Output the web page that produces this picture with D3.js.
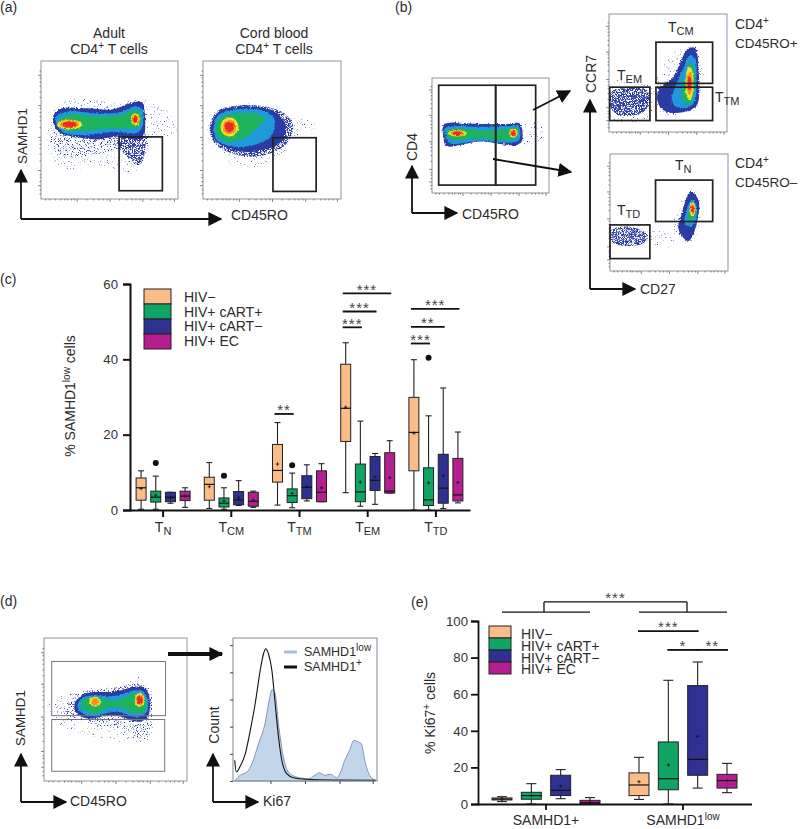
<!DOCTYPE html>
<html>
<head>
<meta charset="utf-8">
<script src="https://cdnjs.cloudflare.com/ajax/libs/d3/7.8.5/d3.min.js"></script>
<style>
  body { margin: 0; background: #fff; }
  svg { display: block; font-family: "Liberation Sans", Arial, sans-serif; fill: #2b2b2b; }
  .lab { font-size: 14px; }
  .axis text { font-size: 13.2px; fill: #333; font-family: "Liberation Sans", Arial, sans-serif; }
  .star { font-size: 15px; fill: #444; text-anchor: middle; letter-spacing: 1px; }
</style>
</head>
<body>
<svg id="fig" width="800" height="829"></svg>
<script>
// ---- data ----
var seriesNames = ["HIV\u2212", "HIV+ cART+", "HIV+ cART\u2212", "HIV+ EC"];
var seriesColors = ["#fbbd88", "#0fa565", "#2e3192", "#b41e8e"];

// (c) each row: low whisker, q1, median, q3, high whisker, mean
var cGroups = ["N", "CM", "TM", "EM", "TD"];
var cTicks = [0, 20, 40, 60];
var tnStats = [[0.2, 2.6, 5.9, 8.5, 10.4, 5.7], [0.2, 2.1, 3.4, 5, 9, 3.9], [1.8, 2.2, 3.4, 4.7, 4.7, 3.3], [0.7, 2.5, 3.7, 5, 5.9, 3.7]];
var tcmStats = [[0.4, 2.6, 6.8, 8.7, 12.6, 6.2], [0.2, 0.8, 1.8, 3.2, 5.9, 2.4], [1.2, 1.4, 2.7, 4.9, 7.8, 3.3], [0.7, 1, 2.3, 4.7, 5, 2.6]];
var ttmStats = [[1.3, 7.4, 10.5, 17.4, 23.2, 12.2], [0.6, 2, 3.8, 5.6, 9.8, 4.4], [2.4, 3, 6, 9.1, 12, 6.2], [2.2, 2.2, 4.7, 10.4, 12.3, 5.9]];
var temStats = [[4.6, 18.2, 27, 38.7, 44.4, 27.3], [1, 2.2, 4.8, 12.2, 23.6, 7.4], [1.5, 5.2, 7.9, 14.2, 15, 8.8], [4.5, 4.5, 5, 15.2, 18.4, 8.6]];
var ttdStats = [[0, 10.4, 20.6, 29.9, 39.9, 20.4], [0, 1.2, 2.7, 11.2, 25, 7.2], [0.4, 1.8, 5.8, 14.8, 32.4, 9.1], [1.9, 2.4, 4, 13.7, 20.7, 7.3]];
var cOutliers = [["N", 1, 12.5], ["CM", 1, 9.1], ["TM", 1, 11.9], ["TD", 1, 40.4]];
// group, from series, to series, value, stars
var cSig = [
  ["TM", 0, 1, 25.5, "**"],
  ["EM", 0, 1, 48.5, "***"], ["EM", 0, 2, 52.7, "***"], ["EM", 0, 3, 57.5, "***"],
  ["TD", 0, 1, 44.2, "***"], ["TD", 0, 2, 48.6, "**"], ["TD", 0, 3, 53.4, "***"]
];

// (e) same row layout
var eGroups = ["SAMHD1+", "SAMHD1low"];
var eTicks = [0, 20, 40, 60, 80, 100];
var posStats = [[1.3, 2.2, 2.7, 3.3, 4, 2.7], [0, 2.6, 4.6, 6.4, 11.1, 4.6], [2.9, 4.6, 7.5, 15.7, 18.8, 9.7], [0, 0, 0.7, 2, 3.5, 0.9]];
var lowStats = [[2.5, 4.6, 10.4, 17, 25.5, 12.2], [0, 7.8, 13.8, 33.9, 67.6, 21.3], [8.7, 15.7, 24.4, 64.7, 77.6, 37], [6.2, 8.7, 12.8, 16.2, 22.2, 12.8]];
var eSig = [
  ["SAMHD1low", 0, 2, 94.5, "***"], ["SAMHD1low", 1, 2, 84.2, "*"], ["SAMHD1low", 2, 3, 84.2, "**"]
];

// (d) histogram, x and count in % of the panel
var ki67Pos = [1.2, 2.3, 5, 8.5, 12, 15.4, 18.9, 21.2, 22.8, 24.6, 27, 29.3, 31.6, 33.9, 37.3, 41.9, 51.2, 69.6, 99.5];
var countPos = [14.5, 6.3, 10.3, 19, 35.4, 54, 77.4, 89, 92.5, 89, 77.4, 54, 30.8, 14.5, 5.1, 2.3, 1.2, 0.7, 0.5];
var ki67Low = [1.6, 5, 9.7, 13.1, 17.7, 22.4, 24.7, 27.2, 29.3, 31.6, 35, 38.5, 44.2, 52.3, 56.9, 59.9, 63.8, 67.7, 71.9, 74.2, 77.6, 81, 83.9, 86.9, 89.2, 91.5, 94.9, 98.4];
var countLow = [0.5, 4, 6.3, 12, 26, 41, 54, 64, 61, 40, 16.8, 6.3, 2.8, 1.6, 4, 5.8, 4, 4.7, 2.3, 5.1, 14.5, 21.5, 28.4, 27.3, 26, 14.5, 4, 0.9];

// flow plots: density outlines in % of the panel; hot spots = x, y, rx, ry (yellow), then orange, red radii
var a1Sparse = [[8,62],[21,72],[53,70.5],[74.5,72],[96,62],[99,47.5],[77,43],[74.5,26],[67,18.5],[43,23.5],[19,21],[7,31],[4.5,47.5]];
var a1Mid = [[6.8,47.6],[33.4,47.6],[55,45],[77,47.6],[75.8,30.6],[71,24.6],[65,25.8],[57.6,35.5],[43,32.6],[23.8,30.1],[10.4,35]];
var a1Tail = [[56.4,45],[74.5,46],[75,30],[71,24.6],[66,28.2],[58.8,35.5]];
var a1Blue = [[9.2,60.9],[15.3,65.7],[33.4,65.7],[52.8,65],[64.9,69.3],[73.4,70.5],[75.8,62],[75,45.2],[72,42.8],[56.4,45.2],[43,43.2],[26,44.7],[12.8,48.8],[9.2,54.8]];
var a1Cyan = [[11,59.7],[18.9,63.3],[43,62],[58.8,63.3],[67.3,66.9],[73.4,65.7],[74,52.4],[69.7,48],[52.8,48.8],[31,46.4],[16.5,48],[11.6,53.6]];
var a1Green = [[13.6,57.2],[20,60.9],[43,59.7],[58.8,60.9],[67.3,64.5],[72,63.3],[72.6,53.6],[67.3,51.2],[52.8,51.2],[31,49.5],[17.7,50]];
var a1Hot = [[20.8,54,9,3.5,7,2.8,5,2.2],[68.8,57.7,3.2,4.4,2.4,3.4,1.5,2.4]];

var a2Sparse = [[5.3,59.7],[22,68],[46,68],[63,61],[82,53.6],[81,48.8],[65.4,45],[58,30.7],[36.5,22],[17.3,25.8],[4,40]];
var a2Speck = [[4.8,51.2],[10,63.3],[22,67.4],[46,66.9],[60.6,60.9],[65.4,52.4],[60.6,40.3],[48.6,33],[31.7,30.7],[15,35.5],[7.7,41.5]];
var a2Blue = [[5.5,51.2],[10.5,62.5],[22,66.5],[46,65.5],[56,60],[60,53],[58,43],[48.6,37],[31.7,34],[15,38],[8.5,43]];
var a2Cyan = [[7.7,51.2],[11.3,60.9],[24.5,65],[46,63.3],[52,57.2],[48.6,45],[31.7,38],[17.3,39],[10,42.8]];
var a2Green = [[8.9,51.2],[12.5,58.5],[24.5,62],[41,61],[45,58.5],[39,51.2],[29.3,44],[17.3,41.5],[11.3,45.2]];
var a2Hot = [[19.2,52.2,6.5,7,5,5.3,3.4,3.8]];

var bMainSparse = [[81,63.4],[98,53],[92,46],[78,43]];
var bMainBlue = [[9.7,59],[15.4,61],[41,60],[64,60],[75,60.5],[75.6,43],[41,44.7],[12.5,41],[9.7,49]];
var bMainCyan = [[11,56],[17,58],[41,57.6],[64,58],[74,58],[74.4,46],[66.7,43.8],[41,45.5],[15.4,43.2],[11.7,49]];
var bMainGreen = [[12.5,54],[21,56],[46.7,54],[65,56],[73,56],[73,48.4],[65,46],[41,48],[18,46],[12.5,49]];
var bMainHot = [[21.7,51.9,8,2.7,6,2.2,4,1.6],[69.5,52,3.5,3.8,2.8,3,2,2.2]];

var bTopSparse = [[44.6,58],[68.8,74],[78.7,64],[77.3,27],[71.6,17],[46,15.6],[39,27],[40,47]];
var bTopSparse2 = [[0.6,41],[32,41],[40,27],[34.7,12.8],[3.4,10]];
var bTopSpeck = [[2,34],[14.8,37],[31.8,35.5],[34,24],[29,17],[9,14],[2,20]];
var bTopBlue = [[41.8,35.5],[54.5,47],[67.3,71],[73,71],[75.9,52.6],[75,24],[68.8,18.5],[48.9,17],[41.8,24]];
var bTopCyan = [[54.5,34],[61.6,51],[68.8,65],[73,62.5],[74,41],[73,27],[67.3,20.7],[57.4,21.3],[53,27]];
var bTopGreen = [[61.6,32.7],[64.5,44],[68.8,58],[72,55],[72,35.5],[70,25.6],[64.5,24.7]];
var bTopHot = [[68.2,41.2,3.5,14,2.5,10,1.6,6]];

var bLowSparse = [[59.4,57.7],[69.3,73.4],[76.4,60.6],[73.6,32],[66.5,23.4],[58,29],[53.7,43.4]];
var bLowSparse2 = [[34,32],[58,37.7],[59.4,26],[39.5,19]];
var bLowSpeck = [[1,35],[17.9,37.7],[32.4,30.6],[28,23.4],[8,22],[1,26]];
var bLowBlue = [[60.8,49],[68,67.7],[75,60.6],[72,35],[66.5,25.7],[59.4,32],[58,40.6]];
var bLowCyan = [[63.6,47.7],[69.3,60.6],[73.6,55],[72,42],[68,37.7],[63.6,40.6]];
var bLowGreen = [[66.5,49],[69.9,57],[72.7,52],[71.3,44.9],[68,42]];
var bLowHot = [[69.9,52.9,2.6,6,1.9,4.5,1.2,3]];

var dSparse = [[1,54],[27.7,63.7],[53.4,68.4],[69.7,72.6],[75.5,63.7],[74.4,31],[67.4,26],[46.4,28.6],[23,33],[4.4,45]];
var dSpeck = [[16,54],[27.7,62.5],[48.8,65],[67.4,68.4],[74,63.7],[74,35.6],[67.4,29.7],[58,35.6],[30,40.3],[13.8,46]];
var dBlue = [[22,55.5],[30,61.4],[48.8,62.5],[68.5,66],[73,61.4],[73,46],[67.4,41.5],[48.8,46],[30,43.8],[22,48.5]];
var dCyan = [[24,55.5],[31,59.5],[48.8,59.5],[67.4,63.7],[72,59],[72,48.5],[66,45],[50,48.5],[32.4,45.4],[24,50.4]];
var dGreen = [[26,55.5],[33.6,58.5],[50,56.2],[65,61.4],[70.9,57.8],[70.9,49.6],[65,47.3],[50,52],[34.7,47.3],[27,50.8]];
var dHot = [[35.7,55.5,4,3.5,2.5,2.5,0,0],[66.9,56.7,3.5,4.8,2.8,3.8,2,3]];

var flowMajorY = [10, 21, 45, 68, 90];
var flowMinorY = [4, 7, 13, 16, 18, 28, 33, 37, 40, 43, 52, 57, 60, 63, 66, 74, 78, 82, 85, 88, 93];
var flowMajorX = [26, 50, 74, 97];
var flowMinorX = [3, 6, 10, 14, 17, 19, 22, 24, 33, 38, 42, 45, 48, 57, 62, 66, 69, 72, 80, 85, 88, 91, 94];

// ---- page ----
var svg = d3.select("#fig");
var defs = svg.append("defs");

var addSpeck = function (id, k, b) {
  var f = defs.append("filter").attr("id", id).attr("color-interpolation-filters", "sRGB");
  f.append("feTurbulence").attr("type", "fractalNoise").attr("baseFrequency", 1.3).attr("numOctaves", 1).attr("seed", 4).attr("result", "n");
  f.append("feColorMatrix").attr("in", "n").attr("values", "0 0 0 0 0 0 0 0 0 0 0 0 0 0 0 " + k + " 0 0 0 " + b).attr("result", "m");
  f.append("feComposite").attr("in", "SourceGraphic").attr("in2", "m").attr("operator", "in");
};
addSpeck("sparse", 7, -4.5);
addSpeck("mid", 7, -3.8);
addSpeck("speck", 7, -2.9);

// rough, soft edge for the solid density bands
var soft = defs.append("filter").attr("id", "soft").attr("color-interpolation-filters", "sRGB");
soft.append("feTurbulence").attr("type", "fractalNoise").attr("baseFrequency", 0.6).attr("numOctaves", 1).attr("seed", 7).attr("result", "n");
soft.append("feDisplacementMap").attr("in", "SourceGraphic").attr("in2", "n").attr("scale", 3.5).attr("xChannelSelector", "R").attr("yChannelSelector", "G").attr("result", "d");
soft.append("feGaussianBlur").attr("in", "d").attr("stdDeviation", 0.6);

defs.append("marker").attr("id", "head").attr("viewBox", "0 0 10 10").attr("refX", 9).attr("refY", 5)
  .attr("markerUnits", "userSpaceOnUse").attr("markerWidth", 14).attr("markerHeight", 14).attr("orient", "auto")
  .append("path").attr("d", "M0,0L10,5L0,10Z").attr("fill", "#111");

// text with optional sub or superscript runs
var rich = function (x, y, parts, opts) {
  opts = opts || {};
  var t = svg.append("text").attr("class", "lab")
    .attr("text-anchor", opts.anchor || "start");
  if (opts.size) t.style("font-size", opts.size + "px");
  if (opts.rotate) {
    t.attr("transform", "translate(" + x + "," + y + ") rotate(-90)");
  } else {
    t.attr("x", x).attr("y", y);
  }
  var shift = 0;
  parts.forEach(function (p) {
    var s = t.append("tspan").text(p[0]);
    var dy = -shift;
    if (p[1] === "sub") { s.style("font-size", "11px"); shift = 3; dy += 3; }
    else if (p[1] === "sup") { s.style("font-size", "10px"); shift = -5; dy += -5; }
    else { shift = 0; }
    if (dy !== 0) s.attr("dy", dy);
  });
  return t;
};

var panelLabels = [["(a)", 0, 12], ["(b)", 395, 12], ["(c)", 0, 284], ["(d)", 0, 606], ["(e)", 411, 607]];
panelLabels.forEach(function (d) { rich(d[1], d[2], [[d[0]]]); });

// ---- flow panels ----
var colors = { blue: "#2b3ba4", cyan: "#1e9ad8", green: "#1db25c", yellow: "#f3e62b", orange: "#f7941d", red: "#ec2a25" };
var flowLine = d3.line().curve(d3.curveCatmullRomClosed.alpha(0.5));
var clipCount = 0;

var drawFlow = function (box, layers, gates, gateColor) {
  var x = d3.scaleLinear().domain([0, 100]).range([box.x0, box.x1]);
  var y = d3.scaleLinear().domain([0, 100]).range([box.y1, box.y0]);
  var id = "clip" + clipCount++;
  defs.append("clipPath").attr("id", id).append("rect")
    .attr("x", box.x0).attr("y", box.y0).attr("width", box.x1 - box.x0).attr("height", box.y1 - box.y0);
  var g = svg.append("g");
  var marks = g.append("g").attr("clip-path", "url(#" + id + ")");
  var outline = function (pts) { return flowLine(pts.map(function (p) { return [x(p[0]), y(p[1])]; })); };

  [["sparse", layers.sparse], ["mid", layers.mid], ["speck", layers.speck]].forEach(function (l) {
    (l[1] || []).forEach(function (pts) {
      marks.append("path").attr("d", outline(pts)).attr("fill", colors.blue).attr("filter", "url(#" + l[0] + ")");
    });
  });
  var solid = marks.append("g").attr("filter", "url(#soft)");
  [["blue", layers.blue], ["cyan", layers.cyan], ["green", layers.green]].forEach(function (l) {
    solid.append("path").attr("d", outline(l[1])).attr("fill", colors[l[0]]);
  });
  layers.hot.forEach(function (h) {
    [["yellow", h[2], h[3]], ["orange", h[4], h[5]], ["red", h[6], h[7]]].forEach(function (e) {
      solid.append("ellipse").attr("cx", x(h[0])).attr("cy", y(h[1]))
        .attr("rx", x(e[1]) - x(0)).attr("ry", y(0) - y(e[2])).attr("fill", colors[e[0]]);
    });
  });

  g.append("rect").attr("x", box.x0).attr("y", box.y0).attr("width", box.x1 - box.x0).attr("height", box.y1 - box.y0)
    .attr("fill", "none").attr("stroke", "#7d8c96").attr("stroke-width", 0.9);

  var tick = function (axis, vals, size, tf) {
    g.append("g").attr("transform", tf)
      .call(axis.tickValues(vals).tickSize(size).tickFormat(""))
      .call(function (s) { s.select(".domain").remove(); s.selectAll("line").attr("stroke", "#555").attr("stroke-width", 0.7); });
  };
  tick(d3.axisLeft(y), flowMajorY, 3, "translate(" + box.x0 + ",0)");
  tick(d3.axisLeft(y), flowMinorY, 1.5, "translate(" + box.x0 + ",0)");
  tick(d3.axisBottom(x), flowMajorX, 3, "translate(0," + box.y1 + ")");
  tick(d3.axisBottom(x), flowMinorX, 1.5, "translate(0," + box.y1 + ")");

  gates.forEach(function (r) {
    g.append("rect").attr("x", x(r[0])).attr("y", y(r[3])).attr("width", x(r[1]) - x(r[0])).attr("height", y(r[2]) - y(r[3]))
      .attr("fill", "none").attr("stroke", gateColor || "#222").attr("stroke-width", gateColor ? 1 : 1.7);
  });
  return { x: x, y: y, g: g };
};

drawFlow({ x0: 41, x1: 178, y0: 61, y1: 199 },
  { sparse: [a1Sparse], mid: [a1Mid], speck: [a1Tail], blue: a1Blue, cyan: a1Cyan, green: a1Green, hot: a1Hot },
  [[57, 88.6, 6, 45]]);
drawFlow({ x0: 203, x1: 341, y0: 61, y1: 199 },
  { sparse: [a2Sparse], speck: [a2Speck], blue: a2Blue, cyan: a2Cyan, green: a2Green, hot: a2Hot },
  [[50.7, 82, 5.5, 44.4]]);
drawFlow({ x0: 432, x1: 549, y0: 78, y1: 193 },
  { sparse: [bMainSparse], blue: bMainBlue, cyan: bMainCyan, green: bMainGreen, hot: bMainHot },
  [[5.7, 54.4, 6.9, 93.7], [54.4, 88.6, 6.9, 93.7]]);
drawFlow({ x0: 609, x1: 727, y0: 14, y1: 132 },
  { sparse: [bTopSparse, bTopSparse2], speck: [bTopSpeck, bTopSpeck], blue: bTopBlue, cyan: bTopCyan, green: bTopGreen, hot: bTopHot },
  [[39.8, 87.8, 41.2, 76.1], [39.8, 87.8, 9.7, 38], [0.6, 34.7, 9.7, 38]]);
drawFlow({ x0: 610, x1: 728, y0: 154, y1: 271 },
  { sparse: [bLowSparse, bLowSparse2], speck: [bLowSpeck], blue: bLowBlue, cyan: bLowCyan, green: bLowGreen, hot: bLowHot },
  [[38.6, 87, 42.3, 77.7], [0, 33.8, 10.6, 39.4]]);
drawFlow({ x0: 44, x1: 187, y0: 638, y1: 781 },
  { sparse: [dSparse], mid: [dSpeck], blue: dBlue, cyan: dCyan, green: dGreen, hot: dHot },
  [[5.4, 85, 45.7, 83.6], [5.4, 84.4, 6.8, 43]], "#777");

// ---- histogram ----
var histX = d3.scaleLinear().domain([0, 100]).range([233, 377]);
var histY = d3.scaleLinear().domain([0, 100]).range([781, 638]);
var lowPts = ki67Low.map(function (v, i) { return [v, countLow[i]]; });
var posPts = ki67Pos.map(function (v, i) { return [v, countPos[i]]; });
svg.append("path").attr("d", d3.area().curve(d3.curveMonotoneX)
    .x(function (d) { return histX(d[0]); }).y0(histY(0)).y1(function (d) { return histY(d[1]); })(lowPts))
  .attr("fill", "#c3d5ea").attr("stroke", "#7f98b8").attr("stroke-width", 1);
svg.append("path").attr("d", d3.line().curve(d3.curveMonotoneX)
    .x(function (d) { return histX(d[0]); }).y(function (d) { return histY(d[1]); })(posPts))
  .attr("fill", "none").attr("stroke", "#111").attr("stroke-width", 1.1);
svg.append("rect").attr("x", 233).attr("y", 638).attr("width", 144).attr("height", 143)
  .attr("fill", "none").attr("stroke", "#7d8c96");
svg.append("g").attr("transform", "translate(233,0)")
  .call(d3.axisLeft(histY).tickValues([0, 19, 38, 57, 76, 95]).tickSize(3).tickFormat(""))
  .call(function (s) { s.select(".domain").remove(); s.selectAll("line").attr("stroke", "#444"); });
svg.append("g").attr("transform", "translate(0,781)")
  .call(d3.axisBottom(histX).tickValues(flowMajorX).tickSize(3).tickFormat(""))
  .call(function (s) { s.select(".domain").remove(); s.selectAll("line").attr("stroke", "#444"); });
svg.append("line").attr("x1", 284).attr("x2", 297).attr("y1", 652).attr("y2", 652).attr("stroke", "#a9bfdc").attr("stroke-width", 3);
svg.append("line").attr("x1", 284).attr("x2", 297).attr("y1", 667).attr("y2", 667).attr("stroke", "#111").attr("stroke-width", 3);
rich(304, 656, [["SAMHD1"], ["low", "sup"]], { size: 12.5 });
rich(304, 671, [["SAMHD1"], ["+", "sup"]], { size: 12.5 });

// ---- arrows ----
var arrow = function (points, w) {
  svg.append("path").attr("d", d3.line()(points)).attr("fill", "none")
    .attr("stroke", "#111").attr("stroke-width", w || 1.8).attr("marker-end", "url(#head)");
};
var axisArrows = [[21, 219, 170, 221], [412, 213, 166, 457], [590, 289, 100, 635], [21, 802, 754, 66], [213, 802, 754, 258]];
axisArrows.forEach(function (a) {
  arrow([[a[0], a[1]], [a[0], a[2]]]);
  arrow([[a[0], a[1]], [a[3], a[1]]]);
});
arrow([[533, 110], [570, 91]]);
arrow([[493, 159], [571, 172]]);
svg.append("path").attr("d", d3.line()([[168, 654], [222, 654]])).attr("stroke", "#111").attr("stroke-width", 4)
  .attr("fill", "none").attr("marker-end", "url(#head)");

// ---- flow labels ----
[[109, "Adult"], [274, "Cord blood"]].forEach(function (d) { rich(d[0], 38, [[d[1]]], { anchor: "middle" }); });
[109, 274].forEach(function (x) { rich(x, 54, [["CD4"], ["+", "sup"], [" T cells"]], { anchor: "middle" }); });
rich(27, 136, [["SAMHD1"]], { rotate: true, anchor: "middle", size: 13.4 });
rich(231, 220, [["CD45RO"]]);
rich(417, 147, [["CD4"]], { rotate: true, anchor: "middle" });
rich(462, 219, [["CD45RO"]]);
rich(596, 74, [["CCR7"]], { rotate: true, anchor: "middle" });
rich(640, 294, [["CD27"]]);
[[668, 32, "CM"], [617, 80, "EM"], [715, 102, "TM"], [675, 170, "N"], [617, 215, "TD"]].forEach(function (d) {
  rich(d[0], d[1], [["T"], [d[2], "sub"]]);
});
rich(735, 29, [["CD4"], ["+", "sup"]]);
rich(735, 48, [["CD45RO+"]], { size: 13.5 });
rich(735, 168, [["CD4"], ["+", "sup"]]);
rich(735, 187, [["CD45RO\u2013"]], { size: 13.5 });
rich(25, 718, [["SAMHD1"]], { rotate: true, anchor: "middle", size: 13.4 });
rich(70, 806, [["CD45RO"]]);
rich(219, 725, [["Count"]], { rotate: true, anchor: "middle" });
rich(263, 806, [["Ki67"]]);

// ---- box plots ----
var drawBoxes = function (groups, rows, x0, xs, y, boxW, capW) {
  groups.forEach(function (grp, gi) {
    var cx = x0(grp) + x0.bandwidth() / 2;
    rows[gi].forEach(function (s, si) {
      var g = svg.append("g").attr("transform", "translate(" + (cx + xs(si)) + ",0)");
      g.append("line").attr("y1", y(s[0])).attr("y2", y(s[4])).attr("stroke", "#222").attr("stroke-width", 1.1);
      [s[0], s[4]].forEach(function (v) {
        g.append("line").attr("x1", -capW / 2).attr("x2", capW / 2).attr("y1", y(v)).attr("y2", y(v)).attr("stroke", "#222").attr("stroke-width", 1.1);
      });
      g.append("rect").attr("x", -boxW / 2).attr("width", boxW).attr("y", y(s[3])).attr("height", y(s[1]) - y(s[3]))
        .attr("fill", seriesColors[si]).attr("stroke", "#222").attr("stroke-width", 1);
      g.append("line").attr("x1", -boxW / 2).attr("x2", boxW / 2).attr("y1", y(s[2])).attr("y2", y(s[2])).attr("stroke", "#111").attr("stroke-width", 1.2);
      g.append("path").attr("d", "M-1.7," + y(s[5]) + "h3.4M0," + (y(s[5]) - 1.7) + "v3.4").attr("stroke", "#111").attr("stroke-width", 0.8);
    });
  });
};

var drawSig = function (sig, x0, xs, y, padL, padR, lift) {
  sig.forEach(function (s) {
    var cx = x0(s[0]) + x0.bandwidth() / 2;
    var a = cx + xs(s[1]) - padL, b = cx + xs(s[2]) + padR;
    svg.append("line").attr("x1", a).attr("x2", b).attr("y1", y(s[3])).attr("y2", y(s[3])).attr("stroke", "#111").attr("stroke-width", 1.8);
    svg.append("text").attr("class", "star").attr("x", (a + b) / 2).attr("y", y(s[3]) + lift).text(s[4]);
  });
};

var drawLegend = function (x, w, y0, h, tx, ty, th) {
  seriesNames.forEach(function (n, i) {
    svg.append("rect").attr("x", x).attr("y", y0 + i * h).attr("width", w).attr("height", h)
      .attr("fill", seriesColors[i]).attr("stroke", "#222").attr("stroke-width", 1);
    rich(tx, ty + i * th, [[n]]);
  });
};

// (c)
var cX = d3.scaleBand().domain(cGroups).range([129, 470]);
var cS = d3.scalePoint().domain([0, 1, 2, 3]).range([-22, 22]);
var cY = d3.scaleLinear().domain([0, 60]).range([510, 284]);
drawBoxes(cGroups, [tnStats, tcmStats, ttmStats, temStats, ttdStats], cX, cS, cY, 10, 6);
cOutliers.forEach(function (o) {
  svg.append("circle").attr("cx", cX(o[0]) + cX.bandwidth() / 2 + cS(o[1])).attr("cy", cY(o[2])).attr("r", 3).attr("fill", "#111");
});
svg.append("g").attr("class", "axis").attr("transform", "translate(130,0)")
  .call(d3.axisLeft(cY).tickValues(cTicks).tickSize(7).tickPadding(5))
  .call(function (s) { s.selectAll("line,path").attr("stroke", "#111").attr("stroke-width", 2); });
svg.append("g").attr("class", "axis").attr("transform", "translate(0,510)")
  .call(d3.axisBottom(cX).tickSize(7).tickFormat("").tickSizeOuter(0))
  .call(function (s) { s.selectAll("line,path").attr("stroke", "#111").attr("stroke-width", 2); });
cGroups.forEach(function (g) { rich(cX(g) + cX.bandwidth() / 2, 532, [["T"], [g, "sub"]], { anchor: "middle" }); });
rich(75, 396, [["% SAMHD1"], ["low", "sup"], [" cells"]], { rotate: true, anchor: "middle" });
drawSig(cSig, cX, cS, cY, 3, 1.5, 1.5);
drawLegend(144, 27, 289, 15, 184, 302, 14.7);

// (e)
var eX = d3.scaleBand().domain(eGroups).range([477.5, 751.5]);
var eS = d3.scalePoint().domain([0, 1, 2, 3]).range([-44, 44]);
var eY = d3.scaleLinear().domain([0, 100]).range([804, 621]);
drawBoxes(eGroups, [posStats, lowStats], eX, eS, eY, 20, 10);
svg.append("g").attr("class", "axis").attr("transform", "translate(478,0)")
  .call(d3.axisLeft(eY).tickValues(eTicks).tickSize(7).tickPadding(3))
  .call(function (s) { s.selectAll("line,path").attr("stroke", "#111").attr("stroke-width", 1.8); });
svg.append("g").attr("class", "axis").attr("transform", "translate(0,804)")
  .call(d3.axisBottom(eX).tickSize(6).tickFormat("").tickSizeOuter(0))
  .call(function (s) { s.selectAll("line,path").attr("stroke", "#111").attr("stroke-width", 1.8); });
rich(546, 825, [["SAMHD1+"]], { anchor: "middle" });
rich(683, 825, [["SAMHD1"], ["low", "sup"]], { anchor: "middle" });
rich(435, 713, [["% Ki67"], ["+", "sup"], [" cells"]], { rotate: true, anchor: "middle" });
drawSig(eSig, eX, eS, eY, 1, 1, 1);
drawLegend(489, 22, 626, 12, 521, 639, 11.8);

// bracket between the two groups of (e)
var spanLeft = eX("SAMHD1+") + eX.bandwidth() / 2, spanRight = eX("SAMHD1low") + eX.bandwidth() / 2;
[[spanLeft, -2], [spanRight, 4]].forEach(function (d) {
  var c = d[0];
  svg.append("line").attr("x1", c + eS(0)).attr("x2", c + eS(3)).attr("y1", eY(104.9)).attr("y2", eY(104.9)).attr("stroke", "#111").attr("stroke-width", 1.3);
  svg.append("line").attr("x1", c + d[1]).attr("x2", c + d[1]).attr("y1", eY(104.9)).attr("y2", eY(110.4)).attr("stroke", "#111").attr("stroke-width", 1.3);
});
svg.append("line").attr("x1", spanLeft - 2).attr("x2", spanRight + 4).attr("y1", eY(110.4)).attr("y2", eY(110.4)).attr("stroke", "#111").attr("stroke-width", 1.3);
svg.append("text").attr("class", "star").attr("x", (spanLeft + spanRight) / 2 + 1).attr("y", eY(110.4) + 1.5).text("***");
</script>
</body>
</html>
